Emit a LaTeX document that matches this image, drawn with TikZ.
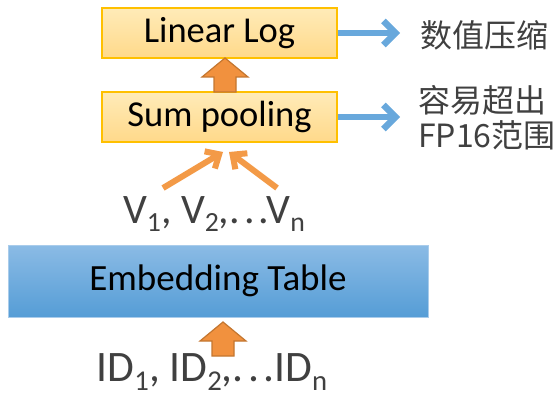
\documentclass[tikz,border=0pt]{standalone}
\usepackage{fontspec}
\usepackage{graphicx}
\setmainfont{Carlito}
\newfontfamily\cjk{Noto Sans CJK SC}
\usetikzlibrary{arrows.meta,calc}

\definecolor{boxedge}{HTML}{FFC000}
\definecolor{boxtop}{HTML}{FFEBB8}
\definecolor{boxbot}{HTML}{FFD98A}
\definecolor{embtop}{HTML}{8BBBE5}
\definecolor{embbot}{HTML}{559DD6}
\definecolor{embedge}{HTML}{A9CCEB}
\definecolor{orangeline}{HTML}{F39A47}
\definecolor{orangefill}{HTML}{F1913E}
\definecolor{orangeedge}{HTML}{C4762F}
\definecolor{bluearrow}{HTML}{68A8DC}
\definecolor{graytext}{HTML}{404040}

% lowered, smaller index text
\newcommand\idx[1]{\raisebox{-0.2em}{\scalebox{0.66}{#1}}}
% spaced dots
\newcommand\sdots{.\kern0.1em.\kern0.1em.}

% vertical block arrow from tail (#2) up to tip (#1)
\newcommand\blockarrow[2]{%
  \path[fatarrow] let \p1=(#1), \p2=(#2) in
    (\x1,\y1) -- (\x1+23pt,\y1-19pt) -- (\x1+11pt,\y1-19pt) -- (\x1+11pt,\y2)
    -- (\x1-11pt,\y2) -- (\x1-11pt,\y1-19pt) -- (\x1-23pt,\y1-19pt) -- cycle;}

\tikzset{
  stagebox/.style={draw=boxedge, line width=1.3pt, top color=boxtop, bottom color=boxbot,
    minimum width=235pt, minimum height=50pt, inner sep=0pt,
    font=\fontsize{36.5}{40}\selectfont, text=black},
  tablebox/.style={draw=embedge, line width=1pt, top color=embtop, bottom color=embbot,
    minimum width=420pt, minimum height=72pt, inner sep=0pt,
    font=\fontsize{37}{40}\selectfont, text=black},
  seqlabel/.style={text=graytext, inner sep=0pt},
  note/.style={font=\cjk\fontsize{32}{35}\selectfont, text=graytext, inner sep=0pt,
    align=left, anchor=west},
  fatarrow/.style={fill=orangefill, draw=orangeedge, line width=1.2pt, line join=miter},
  gather/.style={draw=orangeline, line width=6pt,
    -{Straight Barb[length=11pt,width=20pt,line width=6pt]}},
  sidearrow/.style={draw=bluearrow, line width=6.5pt,
    -{Straight Barb[length=12pt,width=24pt,line width=6.5pt]}},
}

\begin{document}
\begin{tikzpicture}[x=1pt,y=-1pt]
  \useasboundingbox (0,0) rectangle (559,398);

  % processing stages
  \node[stagebox] (lin) at (219.5,33) {Linear Log};
  \node[stagebox] (sum) at (219.5,117) {Sum pooling};
  \node[tablebox] (emb) at (218,281) {Embedding Table};

  % sequences of vectors and ids
  \node[seqlabel, font=\fontsize{42}{46}\selectfont] (vec) at (214,214)
    {V\idx{1}, V\idx{2},\sdots V\idx{n}};
  \node[seqlabel, font=\fontsize{43.5}{46}\selectfont] (ids) at (212,372)
    {ID\idx{1}, ID\idx{2},\sdots ID\idx{n}};

  % side notes
  \node[note] (n1) at (420,35) {数值压缩};
  \node[note] (n2) at (418,118) {容易超出\\FP16范围};

  % block arrows
  \coordinate (t1) at (225,58);
  \coordinate (b1) at (225,92);
  \blockarrow{t1}{b1}
  \coordinate (t2) at (223,322);
  \coordinate (b2) at (223,356);
  \blockarrow{t2}{b2}

  % vectors merged by pooling
  \coordinate (va) at (163,188);
  \coordinate (vb) at (277,188);
  \coordinate (pa) at (223,152);
  \coordinate (pb) at (229,152);
  \draw[gather] (va) -- (pa);
  \draw[gather] (vb) -- (pb);

  % arrows to the notes
  \draw[sidearrow] (lin.east) -- (lin.east -| 400,0);
  \draw[sidearrow] (sum.east) -- (sum.east -| 400,0);
\end{tikzpicture}
\end{document}
